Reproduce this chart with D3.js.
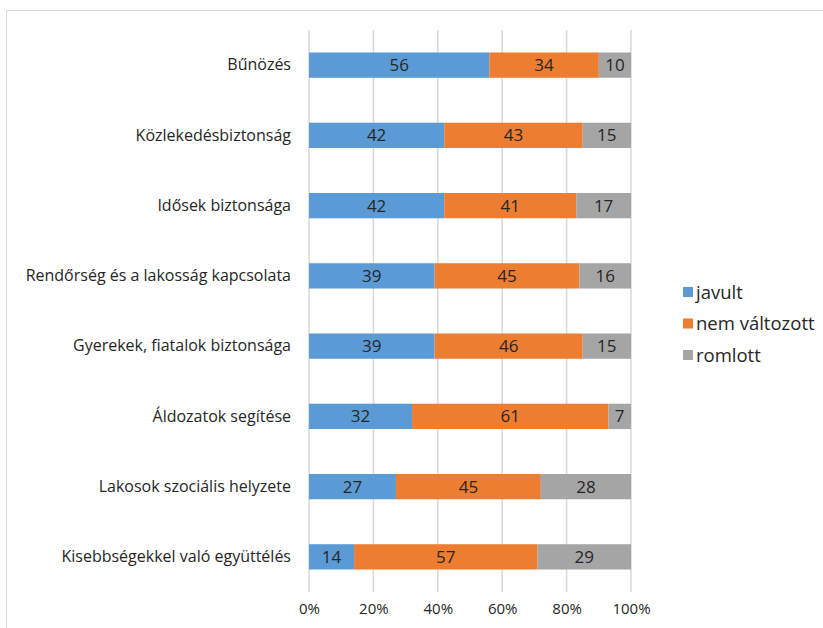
<!DOCTYPE html>
<html>
<head>
<meta charset="utf-8">
<script src="https://cdn.jsdelivr.net/npm/d3@7"></script>
<style>
  body { margin: 0; background: #fff; }
  svg { font-family: "Open Sans", "Noto Sans", sans-serif; }
</style>
</head>
<body>
<div id="chart"></div>
<script>
const categories = [
  "Bűnözés",
  "Közlekedésbiztonság",
  "Idősek biztonsága",
  "Rendőrség és a lakosság kapcsolata",
  "Gyerekek, fiatalok biztonsága",
  "Áldozatok segítése",
  "Lakosok szociális helyzete",
  "Kisebbségekkel való együttélés"
];
const seriesNames = ["javult", "nem változott", "romlott"];
const javult = [56, 42, 42, 39, 39, 32, 27, 14];
const nemValtozott = [34, 43, 41, 45, 46, 61, 45, 57];
const romlott = [10, 15, 17, 16, 15, 7, 28, 29];
const tickLabels = ["0%", "20%", "40%", "60%", "80%", "100%"];

const colors = { "javult": "#5B9BD5", "nem változott": "#ED7D31", "romlott": "#A5A5A5" };

const width = 823, height = 628;

const svg = d3.select("#chart")
  .append("svg")
  .attr("width", width)
  .attr("height", height);

// outer chart border (cut off at right and bottom like the reference)
svg.append("rect")
  .attr("x", 6.5).attr("y", 10.5)
  .attr("width", 830).attr("height", 640)
  .attr("fill", "none")
  .attr("stroke", "#D9D9D9");

const rows = categories.map((c, i) => ({
  cat: c,
  "javult": javult[i],
  "nem változott": nemValtozott[i],
  "romlott": romlott[i]
}));

const stack = d3.stack().keys(seriesNames).offset(d3.stackOffsetExpand);
const layers = stack(rows);

const x = d3.scaleLinear().domain([0, 1]).range([309, 631]);
const y = d3.scaleBand().domain(categories).range([30, 592]).paddingInner(0.64).paddingOuter(0.32);

// gridlines
svg.append("g")
  .selectAll("line")
  .data(x.ticks(5))
  .enter().append("line")
  .attr("x1", d => x(d)).attr("x2", d => x(d))
  .attr("y1", 30).attr("y2", 592)
  .attr("stroke", "#D9D9D9")
  .attr("stroke-width", 1.5);

// bars
const layerG = svg.append("g")
  .selectAll("g")
  .data(layers)
  .enter().append("g")
  .attr("fill", d => colors[d.key]);

layerG.selectAll("rect")
  .data(d => d)
  .enter().append("rect")
  .attr("x", d => x(d[0]))
  .attr("y", d => y(d.data.cat))
  .attr("width", d => x(d[1]) - x(d[0]))
  .attr("height", y.bandwidth());

// value labels
layerG.each(function (layer) {
  d3.select(this).selectAll("text")
    .data(layer)
    .enter().append("text")
    .attr("x", d => (x(d[0]) + x(d[1])) / 2)
    .attr("y", d => y(d.data.cat) + y.bandwidth() / 2)
    .attr("dy", "0.36em")
    .attr("text-anchor", "middle")
    .attr("fill", "#262626")
    .style("font-size", "17px")
    .text(d => d.data[layer.key]);
});

// category labels
const yAxis = svg.append("g")
  .attr("transform", "translate(309,0)")
  .call(d3.axisLeft(y).tickSize(0).tickPadding(18));
yAxis.select(".domain").remove();
yAxis.selectAll("text")
  .attr("fill", "#262626")
  .style("font-size", "16px")
  .style("font-family", "'Open Sans', sans-serif");

// x-axis tick labels
const xAxis = svg.append("g")
  .attr("transform", "translate(0,599)")
  .call(d3.axisBottom(x).ticks(5).tickSize(0).tickPadding(4)
    .tickFormat((d, i) => tickLabels[i]));
xAxis.select(".domain").remove();
xAxis.selectAll("text")
  .attr("fill", "#262626")
  .style("font-size", "15px")
  .style("font-family", "'Open Sans', sans-serif");

// legend
const legend = svg.append("g")
  .selectAll("g")
  .data(seriesNames)
  .enter().append("g")
  .attr("transform", (d, i) => `translate(683,${292 + i * 31.5})`);
legend.append("rect")
  .attr("x", 0).attr("y", -5)
  .attr("width", 10).attr("height", 10)
  .attr("fill", d => colors[d]);
legend.append("text")
  .attr("x", 13).attr("y", 0)
  .attr("dy", "0.36em")
  .attr("fill", "#262626")
  .style("font-size", "18.5px")
  .text(d => d);
</script>
</body>
</html>
